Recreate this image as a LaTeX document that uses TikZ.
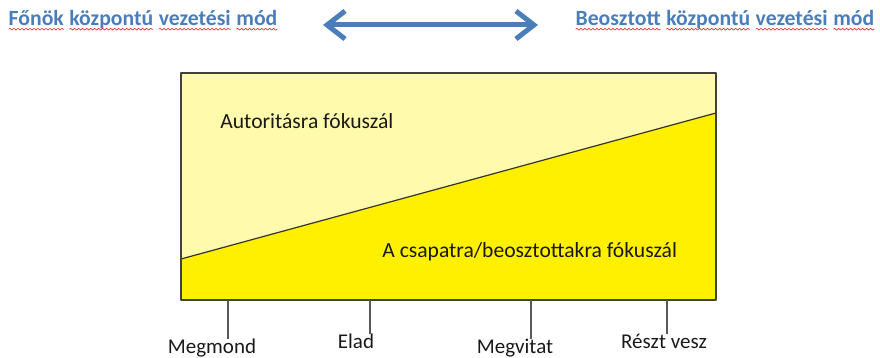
\documentclass[tikz,border=0pt]{standalone}
\usepackage{fontspec}
\setmainfont{Carlito}
\usetikzlibrary{arrows.meta}
\usetikzlibrary{decorations.pathmorphing}

\definecolor{headblue}{RGB}{74,126,187}
\definecolor{paleyellow}{RGB}{255,250,172}
\definecolor{deepyellow}{RGB}{255,240,0}
\definecolor{boxgray}{RGB}{64,64,64}
\definecolor{spellred}{RGB}{215,60,60}

% red wavy underline under a word
\newcommand{\spell}[1]{\tikz[baseline=(w.base), x=1pt, y=1pt]{%
    \node[inner sep=0pt, outer sep=0pt] (w) {#1};
    \draw[spellred, line width=0.35pt, decorate,
        decoration={snake, amplitude=0.45pt, segment length=2pt}]
        ([yshift=-1.6pt]w.base west) -- ([yshift=-1.6pt]w.base east);}}

\begin{document}
\begin{tikzpicture}[x=0.5pt, y=-0.5pt, line join=round,
    head/.style={font=\fontsize{10.85}{13}\selectfont\bfseries, text=headblue, inner sep=0pt},
    inlabel/.style={font=\fontsize{10.8}{13}\selectfont, text=black!90, inner sep=0pt, anchor=base west},
    ticklabel/.style={font=\fontsize{10.5}{12}\selectfont, text=black!90, inner sep=0pt, anchor=base},
    tick/.style={draw=black!65, line width=0.9pt},
    twoway/.style={draw=headblue, line width=2.5pt, line cap=round,
        {Straight Barb[length=9pt, width=14pt]}-{Straight Barb[length=9pt, width=14pt]}}]
    \useasboundingbox (0,0) rectangle (880,358);

    % draw headings and the arrow between them
    \node[head, anchor=base west] (boss) at (8,26)
        {\spell{Főnök} \spell{központú} \spell{vezetési} \spell{mód}};
    \node[head, anchor=base east] (staff) at (875,26)
        {\spell{Beosztott} \spell{központú} \spell{vezetési} \spell{mód}};
    \coordinate (arrL) at (323,25);
    \coordinate (arrR) at (538,25);
    \draw[twoway] (arrL) -- (arrR);

    % draw the box split by the slope
    \coordinate (tl) at (181,73);
    \coordinate (br) at (716,300);
    \coordinate (bl) at (181,300);
    \coordinate (dl) at (181,259);
    \coordinate (dr) at (716,113);
    \fill[paleyellow] (tl) rectangle (br);
    \fill[deepyellow] (dl) -- (dr) -- (br) -- (bl) -- cycle;
    \draw[color=black!80, line width=0.6pt] (dl) -- (dr);
    \draw[color=boxgray, line width=0.9pt] (tl) rectangle (br);

    \node[inlabel] (authority) at (220,129) {Autoritásra fókuszál};
    \node[inlabel] (team) at (382,258) {A csapatra/beosztottakra fókuszál};

    % draw ticks and their labels
    \foreach \name/\tx/\lx/\ly/\txt in {tell/228/212/353.5/Megmond, sell/370/356/349/Elad,
        discuss/531/515/353.5/Megvitat, join/667/664/349/Részt vesz} {
        \node[ticklabel] (\name) at (\lx,\ly) {\txt};
        \draw[tick] (\tx,300) -- (\tx,300 |- \name.north);
    }
\end{tikzpicture}
\end{document}
